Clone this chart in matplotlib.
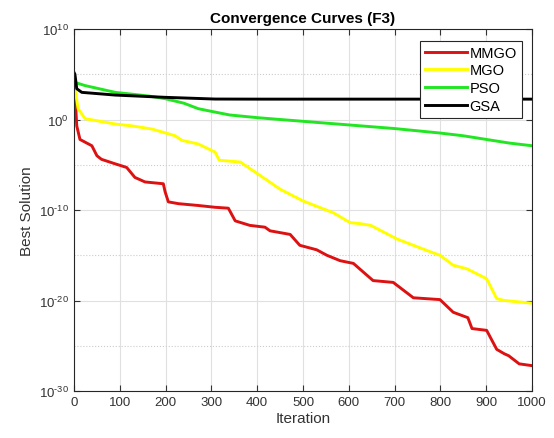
import numpy as np
import matplotlib
matplotlib.use("Agg")
import matplotlib.pyplot as plt
from matplotlib.ticker import FixedLocator, NullFormatter

plt.rcParams["font.family"] = ["Liberation Sans", "DejaVu Sans"]
plt.rcParams["mathtext.fontset"] = "custom"
plt.rcParams["mathtext.rm"] = "Liberation Sans"
plt.rcParams["mathtext.it"] = "Liberation Sans"

# log10 of best solution
mmgo_iter = [0, 2, 6, 13, 24, 39, 50, 60, 90, 115, 133, 155, 195, 199, 206, 228, 271,
             308, 337, 352, 384, 417, 428, 472, 493, 530, 552, 581, 610, 653, 697,
             741, 799, 828, 860, 869, 901, 923, 940, 949, 972, 1000]
mmgo_log = [3.2, 3.0, -0.7, -2.2, -2.5, -2.9, -4.0, -4.4, -4.9, -5.3, -6.4, -6.9, -7.1,
            -8.0, -9.1, -9.3, -9.5, -9.7, -9.8, -11.2, -11.7, -11.9, -12.3, -12.7,
            -13.9, -14.4, -15.0, -15.6, -15.9, -17.8, -18.0, -19.7, -19.9, -21.3,
            -21.9, -23.1, -23.3, -25.4, -25.9, -26.1, -27.0, -27.2]

mgo_iter = [0, 2, 9, 24, 68, 90, 126, 170, 221, 235, 271, 308, 317, 340, 363, 401,
            450, 500, 566, 603, 624, 648, 705, 777, 799, 828, 858, 901, 923, 940, 1000]
mgo_log = [3.8, 3.4, 1.2, 0.1, -0.3, -0.5, -0.7, -1.05, -1.8, -2.3, -2.7, -3.6, -4.5,
           -4.6, -4.7, -6.0, -7.7, -9.0, -10.3, -11.4, -11.5, -11.7, -13.2, -14.6,
           -15.0, -16.1, -16.5, -17.6, -19.8, -20.0, -20.3]

pso_iter = [0, 2, 24, 90, 162, 199, 240, 271, 300, 340, 401, 450, 500, 600, 700,
            800, 850, 900, 950, 1000]
pso_log = [4.2, 4.1, 3.75, 3.0, 2.6, 2.3, 1.8, 1.2, 0.9, 0.5, 0.2, 0.0, -0.2, -0.6,
           -1.0, -1.5, -1.8, -2.2, -2.6, -2.9]

gsa_iter = [0, 2, 6, 17, 90, 199, 308, 400, 1000]
gsa_log = [5.2, 5.0, 3.4, 3.0, 2.7, 2.45, 2.26, 2.25, 2.25]

series = [
    ("MMGO", mmgo_iter, mmgo_log, "#dd1111"),
    ("MGO", mgo_iter, mgo_log, "#ffff00"),
    ("PSO", pso_iter, pso_log, "#22e622"),
    ("GSA", gsa_iter, gsa_log, "#000000"),
]

fig = plt.figure(figsize=(5.54, 4.39), dpi=100)
ax = fig.add_axes([74 / 554, 47 / 439, 458 / 554, 362 / 439])

for name, it, lg, color in series:
    ax.semilogy(it, 10.0 ** np.array(lg), color=color, linewidth=2.1, label=name)

ax.set_xlim(0, 1000)
ax.set_ylim(1e-30, 1e10)
ax.set_xticks(np.arange(0, 1001, 100))
exps = list(range(-30, 11, 10))
ax.yaxis.set_major_locator(FixedLocator([10.0 ** e for e in exps]))
ax.yaxis.set_minor_locator(FixedLocator([10.0 ** e for e in (-25, -15, -5, 5)]))
ax.yaxis.set_minor_formatter(NullFormatter())
ax.set_yticklabels([r"$10^{\text{%d}}$" % e for e in exps])
ax.yaxis.set_tick_params(which="minor", length=0)

ax.grid(True, which="major", color="#e0e0e0", linewidth=0.8)
ax.grid(True, which="minor", axis="y", color="#cccccc", linestyle=":", linewidth=0.8)
ax.set_axisbelow(True)
ax.tick_params(direction="in", top=True, right=True, labelsize=9.5,
               colors="#333333", length=4)
for s in ax.spines.values():
    s.set_color("#262626")

ax.set_xlabel("Iteration", fontsize=11, color="#333333", labelpad=2)
ax.set_ylabel("Best Solution", fontsize=11, color="#333333")
ax.set_title("Convergence Curves (F3)", fontsize=11, fontweight="bold", pad=5)

leg = ax.legend(loc="upper right", bbox_to_anchor=(0.9775, 0.968), fontsize=10.5,
                handlelength=2.9, handletextpad=0.15, borderpad=0.35,
                labelspacing=0.25, fancybox=False, framealpha=1,
                edgecolor="#262626", borderaxespad=0)
leg.get_frame().set_linewidth(0.8)

fig.savefig("out.png", dpi=100)
